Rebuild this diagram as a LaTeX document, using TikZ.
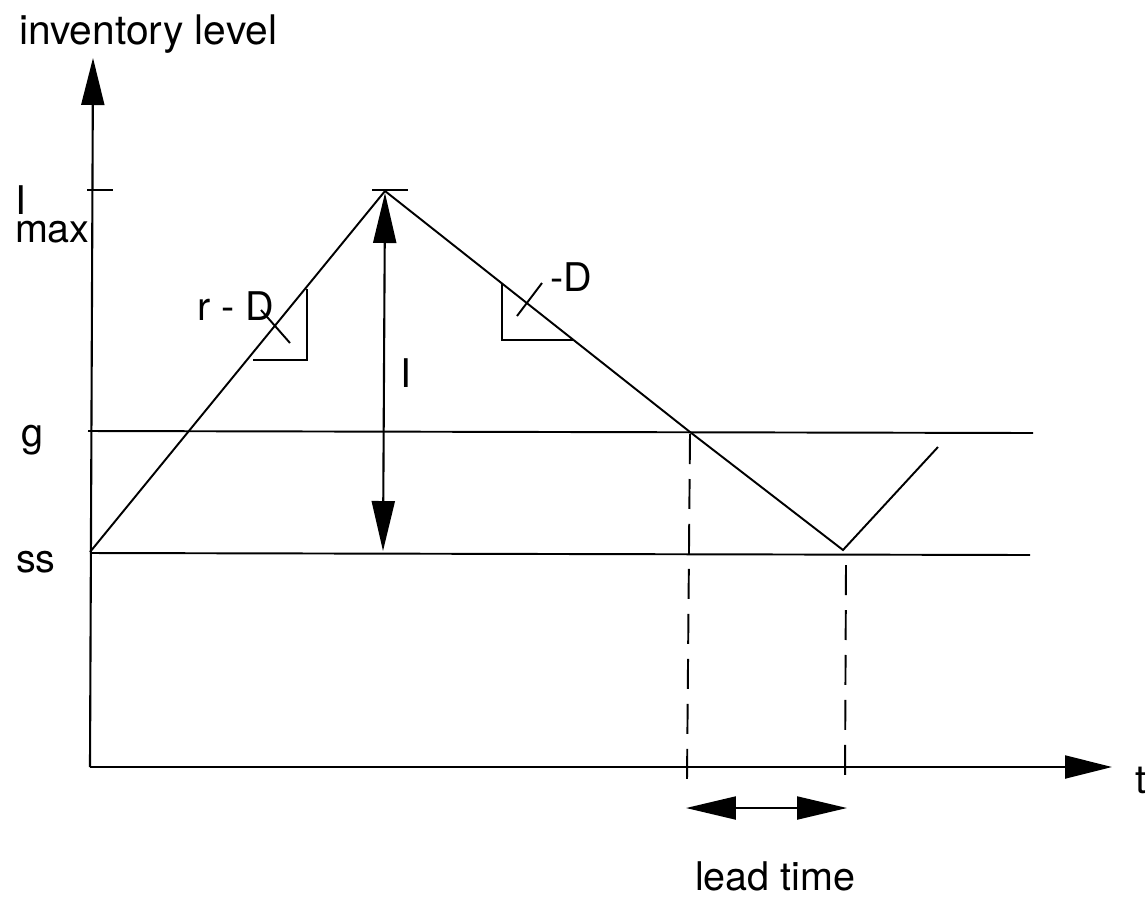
\documentclass[tikz,border=0pt]{standalone}
\usepackage{fontspec}
\setmainfont{TeX Gyre Heros}
\usetikzlibrary{arrows.meta}

\tikzset{
  lbl/.style={inner sep=0pt, anchor=base west, font=\fontsize{22.5}{27}\selectfont},
  bigtip/.style={-{Triangle[length=0.94cm,width=0.46cm]}},
  bothtips/.style={{Triangle[length=1.0cm,width=0.46cm]}-{Triangle[length=1.0cm,width=0.46cm]}},
  level/.style={line width=1.1pt},
  leadline/.style={line width=1.1pt, dash pattern=on 0.6cm off 0.3cm},
}

\begin{document}
\begin{tikzpicture}[x=0.02cm,y=-0.02cm,line width=1.2pt]

% canvas in pixel units (1146 x 897), y grows downwards
\useasboundingbox (0,0) rectangle (1146,897);

% --- key points ---
\coordinate (origin) at (90,767);
\coordinate (ytop)   at (93,58);
\coordinate (xend)   at (1112,767);
\coordinate (ssL)    at (90,552);   % start of the ramp on the axis
\coordinate (peak)   at (385,191);
\coordinate (reorder) at (690,432); % crossing of the g line
\coordinate (trough) at (843,550);
\coordinate (rise)   at (938,447);

% --- axes ---
\draw[bigtip] (origin) -- (ytop);
\draw[bigtip] (origin) -- (xend);

% ticks at Imax
\coordinate (tickL) at (87,190);  \coordinate (tickR) at (113,190);
\draw (tickL) -- (tickR);
\coordinate (ptickL) at (372,190); \coordinate (ptickR) at (408,190);
\draw (ptickL) -- (ptickR);

% --- horizontal levels g and ss ---
\coordinate (gL) at (88,431);  \coordinate (gR) at (1033,433);
\coordinate (sL) at (90,553);  \coordinate (sR) at (1030,555);
\draw[level] (gL) -- (gR);
\draw[level] (sL) -- (sR);

% --- inventory curve ---
\draw[level] (ssL) -- (peak) -- (reorder) -- (trough) -- (rise);

% slope triangles
\coordinate (t1a) at (307,289); \coordinate (t1b) at (307,360); \coordinate (t1c) at (253,360);
\draw[level] (t1a) -- (t1b) -- (t1c);
\coordinate (t2a) at (502,283); \coordinate (t2b) at (502,340); \coordinate (t2c) at (574,340);
\draw[level] (t2a) -- (t2b) -- (t2c);

% leaders to the slope labels
\coordinate (r1a) at (261,310); \coordinate (r1b) at (290,343);
\draw[level] (r1a) -- (r1b);
\coordinate (r2a) at (517,316); \coordinate (r2b) at (542,283);
\draw[level] (r2a) -- (r2b);

% --- order quantity I ---
\coordinate (Ibot) at (383,551); \coordinate (Itop) at (385,193);
\draw[bothtips] (Ibot) -- (Itop);

% --- lead time ---
\coordinate (d1top) at (690,434); \coordinate (d1bot) at (687,780);
\coordinate (d2top) at (846,565); \coordinate (d2bot) at (845,780);
\draw[leadline] (d1top) -- (d1bot);
\draw[leadline] (d2top) -- (d2bot);
\coordinate (ltL) at (686,808); \coordinate (ltR) at (847,808);
\draw[bothtips] (ltL) -- (ltR);

% --- labels ---
\node[lbl, font=\fontsize{23.2}{27}\selectfont] (ylabel) at (18,44) {inventory level};
\node[lbl, anchor=north west, align=left, font=\fontsize{22.5}{15.9}\selectfont]
  (imax) at (14,185) {I\\max};
\node[lbl] (glabel) at (20,446)  {g};
\node[lbl] (sslabel) at (15,572) {ss};
\node[lbl] (rdlabel) at (196,320) {r - D};
\node[lbl] (mdlabel) at (549,291) {-D};
\node[lbl] (qlabel) at (399,387) {I};
\node[lbl] (tlabel) at (1134,793) {t};
\node[lbl] (ltlabel) at (694,890) {lead time};

\end{tikzpicture}
\end{document}
